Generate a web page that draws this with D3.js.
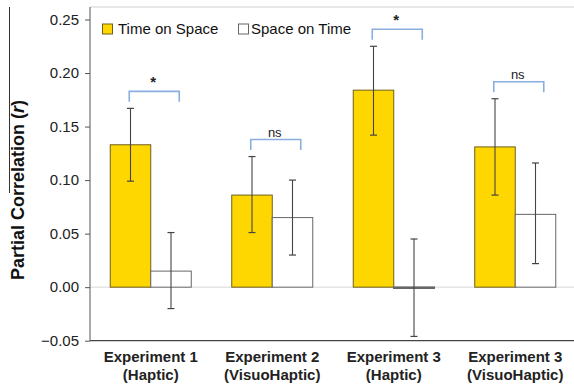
<!DOCTYPE html>
<html>
<head>
<meta charset="utf-8">
<script src="https://cdn.jsdelivr.net/npm/d3@7"></script>
<style>
  html, body { margin: 0; padding: 0; background: #fff; }
  svg { display: block; font-family: "Liberation Sans", Arial, Helvetica, sans-serif; }
</style>
</head>
<body>
<svg id="chart" width="574" height="385"></svg>
<script>
// ---- data ----
const categories = ["Experiment 1|(Haptic)", "Experiment 2|(VisuoHaptic)", "Experiment 3|(Haptic)", "Experiment 3|(VisuoHaptic)"];
const seriesNames = ["Time on Space", "Space on Time"];
const timeOnSpace = [0.133, 0.086, 0.184, 0.131];
const timeOnSpaceLow = [0.099, 0.051, 0.142, 0.086];
const timeOnSpaceHigh = [0.167, 0.122, 0.225, 0.176];
const spaceOnTime = [0.015, 0.065, -0.001, 0.068];
const spaceOnTimeLow = [-0.020, 0.030, -0.046, 0.022];
const spaceOnTimeHigh = [0.051, 0.100, 0.045, 0.116];
const significance = ["*", "ns", "*", "ns"];
const yTicks = [-0.05, 0.00, 0.05, 0.10, 0.15, 0.20, 0.25];

(function () {
// ---- layout ----
const svg = d3.select("#chart");
const pLeft = 90, pRight = 576, pTop = 7, pBottom = 340.7;

const x = d3.scaleBand().domain(categories).range([pLeft, pRight]).padding(0);
const sub = d3.scaleBand().domain(seriesNames).range([0, x.bandwidth()]).paddingInner(0).paddingOuter(0.5);
const y = d3.scaleLinear().domain([-0.05, 0.25]).range([pBottom, 19.5]);

// odd vertical line near the y label (present in reference)
svg.append("line").attr("x1", 9.5).attr("x2", 9.5).attr("y1", 7).attr("y2", 193)
  .attr("stroke", "#333").attr("stroke-width", 1);

// top frame line
svg.append("line").attr("x1", pLeft).attr("x2", 574).attr("y1", pTop).attr("y2", pTop)
  .attr("stroke", "#d0d0d0").attr("stroke-width", 1);

// zero line
svg.append("line").attr("x1", pLeft).attr("x2", 574).attr("y1", y(0)).attr("y2", y(0))
  .attr("stroke", "#d8d8d8").attr("stroke-width", 1);

// y axis
const yAxis = d3.axisLeft(y).tickValues(yTicks).tickSize(5).tickSizeOuter(0)
  .tickFormat(d3.format(".2f"));
const yg = svg.append("g").attr("transform", `translate(${pLeft},0)`).call(yAxis);
yg.select(".domain").remove();
yg.selectAll(".tick line").attr("stroke", "#555");
yg.selectAll(".tick text").attr("font-size", 15).attr("fill", "#222").attr("x", -11)
  .attr("font-family", "Liberation Sans, Arial, sans-serif");
svg.append("line").attr("x1", pLeft).attr("x2", pLeft).attr("y1", pTop).attr("y2", pBottom)
  .attr("stroke", "#555").attr("stroke-width", 1);

// bars
const rows = categories.map((c, i) => ({
  cat: c,
  vals: [
    { s: seriesNames[0], v: timeOnSpace[i], lo: timeOnSpaceLow[i], hi: timeOnSpaceHigh[i] },
    { s: seriesNames[1], v: spaceOnTime[i], lo: spaceOnTimeLow[i], hi: spaceOnTimeHigh[i] }
  ]
}));
const fills = { "Time on Space": "#FFD700", "Space on Time": "#ffffff" };
const strokes = { "Time on Space": "#6e5f1a", "Space on Time": "#666666" };

const groups = svg.append("g").selectAll("g").data(rows).join("g")
  .attr("transform", d => `translate(${x(d.cat)},0)`);

groups.selectAll("rect").data(d => d.vals).join("rect")
  .attr("x", d => sub(d.s))
  .attr("width", sub.bandwidth())
  .attr("y", d => y(Math.max(0, d.v)))
  .attr("height", d => Math.max(1, Math.abs(y(d.v) - y(0))))
  .attr("fill", d => fills[d.s])
  .attr("stroke", d => strokes[d.s])
  .attr("stroke-width", d => d.v < 0 ? 1.5 : 1);

// error bars
const eb = groups.selectAll("g.err").data(d => d.vals).join("g").attr("class", "err");
eb.append("line")
  .attr("x1", d => sub(d.s) + sub.bandwidth() / 2).attr("x2", d => sub(d.s) + sub.bandwidth() / 2)
  .attr("y1", d => y(d.lo)).attr("y2", d => y(d.hi))
  .attr("stroke", "#444").attr("stroke-width", 1.1);
eb.append("line")
  .attr("x1", d => sub(d.s) + sub.bandwidth() / 2 - 3.5).attr("x2", d => sub(d.s) + sub.bandwidth() / 2 + 3.5)
  .attr("y1", d => y(d.hi)).attr("y2", d => y(d.hi))
  .attr("stroke", "#444").attr("stroke-width", 1.2);
eb.append("line")
  .attr("x1", d => sub(d.s) + sub.bandwidth() / 2 - 3.5).attr("x2", d => sub(d.s) + sub.bandwidth() / 2 + 3.5)
  .attr("y1", d => y(d.lo)).attr("y2", d => y(d.lo))
  .attr("stroke", "#444").attr("stroke-width", 1.2);

// significance brackets
rows.forEach((r, i) => {
  const cx = x(r.cat) + x.bandwidth() / 2 + 3.5;
  const maxHi = Math.max(r.vals[0].hi, r.vals[1].hi);
  const by = y(maxHi) - 17;
  const g = svg.append("g");
  g.append("path")
    .attr("d", `M${cx - 25},${by + 10.5}V${by}H${cx + 25}V${by + 10.5}`)
    .attr("fill", "none").attr("stroke", "#89aee0").attr("stroke-width", 1.6);
  const isStar = significance[i] === "*";
  g.append("text").attr("x", cx - 1).attr("y", isStar ? by - 4 : by - 3)
    .attr("text-anchor", "middle")
    .attr("font-size", isStar ? 15 : 13)
    .attr("font-weight", isStar ? "bold" : "normal")
    .attr("fill", "#222")
    .text(significance[i]);
});

// x axis line
svg.append("line").attr("x1", pLeft).attr("x2", 574).attr("y1", pBottom).attr("y2", pBottom)
  .attr("stroke", "#444").attr("stroke-width", 1.2);

// x labels
const xl = svg.append("g").selectAll("text").data(categories).join("text")
  .attr("x", d => x(d) + x.bandwidth() / 2)
  .attr("y", 362)
  .attr("text-anchor", "middle")
  .attr("font-size", 15).attr("font-weight", "bold").attr("fill", "#222");
xl.each(function(d) {
  const parts = d.split("|");
  d3.select(this).append("tspan").attr("x", x(d) + x.bandwidth() / 2).attr("dy", 0).text(parts[0]);
  d3.select(this).append("tspan").attr("x", x(d) + x.bandwidth() / 2).attr("dy", 18).text(parts[1]);
});

// y label
const yl = svg.append("text")
  .attr("transform", "translate(24,190) rotate(-90)")
  .attr("text-anchor", "middle")
  .attr("font-size", 18).attr("font-weight", "bold").attr("fill", "#111");
yl.append("tspan").text("Partial Correlation (");
yl.append("tspan").attr("font-style", "italic").text("r");
yl.append("tspan").text(")");

// legend
const legend = svg.append("g");
const legItems = [
  { name: seriesNames[0], lx: 102.5, tx: 118 },
  { name: seriesNames[1], lx: 238.5, tx: 251 }
];
legItems.forEach(it => {
  legend.append("rect").attr("x", it.lx).attr("y", 24).attr("width", 10).attr("height", 10)
    .attr("fill", fills[it.name]).attr("stroke", strokes[it.name]).attr("stroke-width", 1);
  legend.append("text").attr("x", it.tx).attr("y", 34).attr("font-size", 15).attr("fill", "#111")
    .text(it.name);
});
})();
</script>
</body>
</html>
